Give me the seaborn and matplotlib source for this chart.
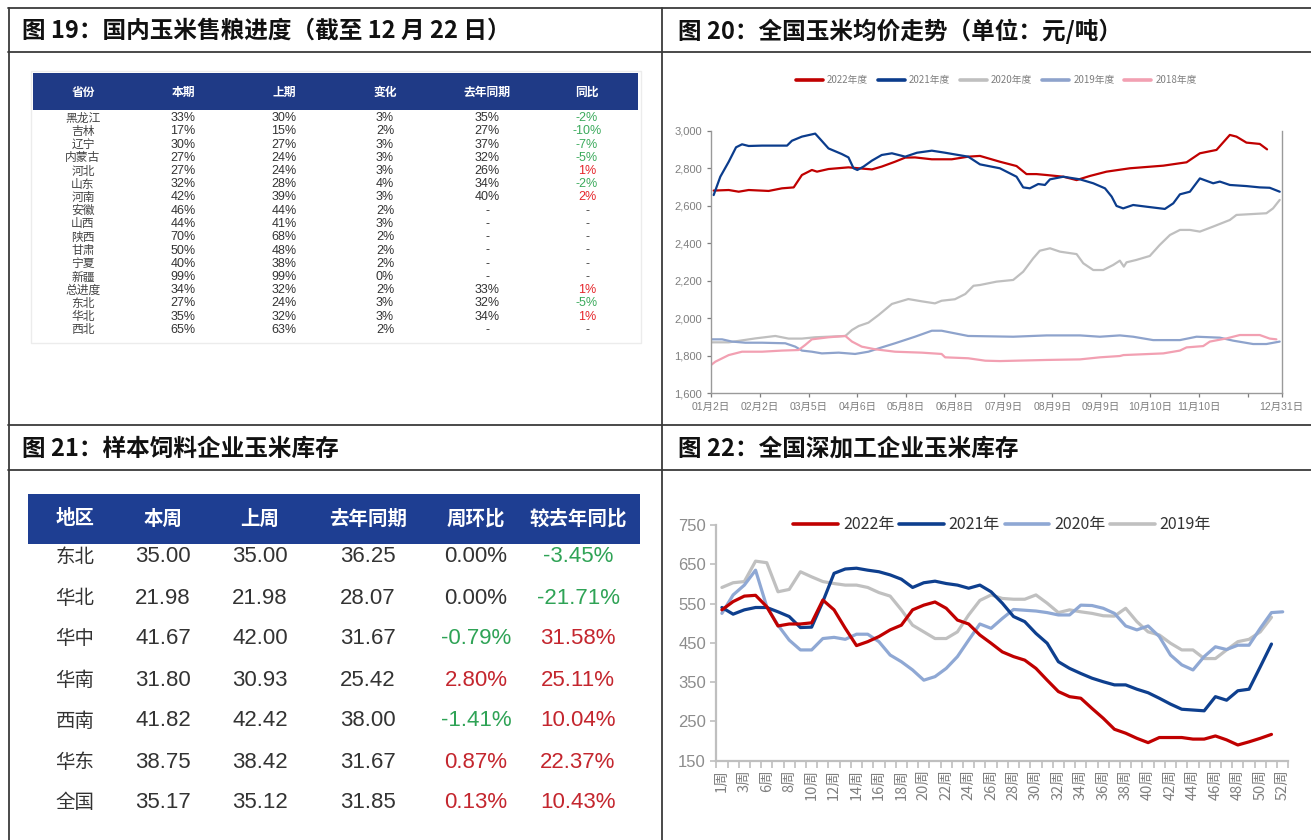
import numpy as np
import pandas as pd
import matplotlib
matplotlib.use("Agg")
import matplotlib.pyplot as plt
import seaborn as sns
from matplotlib.lines import Line2D
from matplotlib.patches import Rectangle
from matplotlib.ticker import StrMethodFormatter
from matplotlib import font_manager

sns.set_theme(style="ticks")
plt.rcParams['font.family'] = ['Noto Sans CJK SC', 'DejaVu Sans']
plt.rcParams['axes.unicode_minus'] = False

_names = {f.name for f in font_manager.fontManager.ttflist}
NARROW = "Liberation Sans Narrow" if "Liberation Sans Narrow" in _names else "Liberation Sans"
NUMFONT = [NARROW, 'Noto Sans CJK SC']

W, H = 1311, 840

# ---------------- 图19 数据 ----------------
t19_cols = ["省份", "本期", "上期", "变化", "去年同期", "同比"]
t19_prov = ["黑龙江", "吉林", "辽宁", "内蒙古", "河北", "山东", "河南", "安徽", "山西",
            "陕西", "甘肃", "宁夏", "新疆", "总进度", "东北", "华北", "西北"]
t19_cur = ["33%", "17%", "30%", "27%", "27%", "32%", "42%", "46%", "44%",
           "70%", "50%", "40%", "99%", "34%", "27%", "35%", "65%"]
t19_prev = ["30%", "15%", "27%", "24%", "24%", "28%", "39%", "44%", "41%",
            "68%", "48%", "38%", "99%", "32%", "24%", "32%", "63%"]
t19_chg = ["3%", "2%", "3%", "3%", "3%", "4%", "3%", "2%", "3%",
           "2%", "2%", "2%", "0%", "2%", "3%", "3%", "2%"]
t19_ly = ["35%", "27%", "37%", "32%", "26%", "34%", "40%", "-", "-",
          "-", "-", "-", "-", "33%", "32%", "34%", "-"]
t19_yoy = ["-2%", "-10%", "-7%", "-5%", "1%", "-2%", "2%", "-", "-",
           "-", "-", "-", "-", "1%", "-5%", "1%", "-"]

# ---------------- 图20 数据（日序号, 元/吨） ----------------
years20 = ["2022年度", "2021年度", "2020年度", "2019年度", "2018年度"]
colors20 = ["#C00000", "#0B3C8C", "#BFBFBF", "#8EA3CC", "#F2A0B2"]
date_labels = ["01月2日", "02月2日", "03月5日", "04月6日", "05月8日", "06月8日",
               "07月9日", "08月9日", "09月9日", "10月10日", "11月10日", "", "12月31日"]

p2022_x = [1.2, 8, 12.5, 17, 26, 32, 37.3, 41, 45.5, 47.8, 53, 62, 66.6, 72.6, 77,
           83, 87.6, 92, 99.6, 108.6, 116, 121.3, 130.3, 137.8, 142.3, 146.8, 151.4,
           158.9, 164.9, 170.9, 178.4, 188.9, 204, 214.5, 220.5, 228, 234, 237, 241.5,
           247.5, 250.8]
p2022_y = [2682, 2685, 2676, 2685, 2680, 2694, 2699, 2765, 2792, 2783, 2797, 2806, 2801,
           2795, 2810, 2836, 2858, 2859, 2849, 2849, 2863, 2867, 2836, 2813, 2770, 2770,
           2765, 2756, 2738, 2760, 2783, 2801, 2815, 2833, 2881, 2899, 2979, 2970, 2938,
           2931, 2902]
p2021_x = [1.2, 4.2, 8, 11.3, 14, 17, 23, 34.3, 36.5, 41, 47, 49.3, 53, 59, 62, 64.3, 66,
           68.8, 72.6, 77, 81.6, 87.6, 92.9, 99.6, 105.6, 110, 116, 121.3, 130.3, 137.8,
           140.8, 143.8, 147.6, 150.6, 152.9, 158.9, 166.4, 172.4, 177.7, 180.7, 182.9,
           185.9, 190.4, 196.4, 204.7, 208.5, 211.5, 216, 220.5, 226.5, 229.5, 234, 241.5,
           247.5, 252, 256.5]
p2021_y = [2658, 2756, 2836, 2913, 2929, 2920, 2922, 2922, 2948, 2970, 2986, 2956, 2907,
           2877, 2859, 2801, 2792, 2810, 2842, 2872, 2881, 2863, 2884, 2895, 2884, 2875,
           2863, 2822, 2801, 2756, 2699, 2694, 2717, 2712, 2742, 2756, 2742, 2721, 2694,
           2650, 2600, 2587, 2605, 2596, 2584, 2614, 2662, 2676, 2747, 2721, 2730, 2712,
           2706, 2699, 2697, 2676]
p2020_x = [0, 8, 20, 29, 35, 41, 47, 60.6, 63.6, 66.6, 71, 75.6, 81.6, 89, 95, 101, 104,
           110, 114.7, 118.4, 121.3, 128.8, 136.3, 140.8, 145.3, 148.3, 152.9, 157.4,
           164.9, 167.9, 172.4, 176.9, 181.4, 184.4, 186.2, 187.4, 191.9, 197.9, 202.4,
           207, 211.5, 216, 220.5, 226.5, 234, 237, 241.5, 250.5, 253.5, 256.5]
p2020_y = [1872, 1872, 1893, 1906, 1892, 1892, 1899, 1906, 1938, 1959, 1977, 2018, 2077,
           2103, 2091, 2080, 2094, 2102, 2130, 2174, 2178, 2196, 2205, 2249, 2320, 2361,
           2374, 2356, 2343, 2294, 2258, 2258, 2285, 2308, 2276, 2299, 2312, 2333, 2392,
           2445, 2472, 2472, 2463, 2490, 2525, 2552, 2555, 2561, 2587, 2632]
p2019_x = [0, 5, 9.5, 15.5, 23, 33.5, 38, 41, 45.5, 50, 57.6, 65, 71, 77, 83, 92, 99.6,
           104, 110, 116, 136.3, 151.4, 166.4, 175.4, 184.4, 190.4, 199.4, 211.5, 219,
           229.5, 235.5, 244.5, 250.5, 256.5]
p2019_y = [1888, 1888, 1876, 1870, 1870, 1867, 1849, 1828, 1822, 1813, 1817, 1810, 1822,
           1845, 1867, 1902, 1934, 1934, 1920, 1906, 1902, 1909, 1909, 1902, 1909, 1902,
           1884, 1884, 1902, 1897, 1881, 1863, 1863, 1876]
p2018_x = [0, 2, 8, 14, 23, 32, 39.5, 42.5, 45.5, 53, 60.6, 63.6, 68, 74, 83, 95, 104,
           105.6, 116, 123.7, 130.3, 151.4, 166.4, 175.4, 184.4, 186, 204, 211.5, 214.5,
           222, 225, 232.5, 238.5, 247.5, 252, 255]
p2018_y = [1751, 1769, 1804, 1822, 1822, 1828, 1831, 1858, 1888, 1899, 1906, 1876, 1849,
           1835, 1822, 1817, 1810, 1792, 1787, 1774, 1772, 1778, 1781, 1792, 1799, 1804,
           1813, 1828, 1845, 1852, 1876, 1893, 1911, 1911, 1892, 1888]

# ---------------- 图21 数据 ----------------
t21_cols = ["地区", "本周", "上周", "去年同期", "周环比", "较去年同比"]
t21_reg = ["东北", "华北", "华中", "华南", "西南", "华东", "全国"]
t21_this = [35.00, 21.98, 41.67, 31.80, 41.82, 38.75, 35.17]
t21_last = [35.00, 21.98, 42.00, 30.93, 42.42, 38.42, 35.12]
t21_ly = [36.25, 28.07, 31.67, 25.42, 38.00, 31.67, 31.85]
t21_wow = [0.00, 0.00, -0.79, 2.80, -1.41, 0.87, 0.13]
t21_yoy = [-3.45, -21.71, 31.58, 25.11, 10.04, 22.37, 10.43]

# ---------------- 图22 数据（万吨） ----------------
years22 = ["2022年", "2021年", "2020年", "2019年"]
colors22 = ["#C00000", "#0E3F8E", "#8FA8D4", "#C0C0C0"]
week_labels = ["1周", "2周", "3周", "5周"] + [f"{w}周" for w in range(6, 53)]
inv2022 = [534, 555, 569, 571, 542, 493, 498, 498, 501, 559, 534, 487, 443, 453, 466, 483,
           495, 534, 546, 554, 538, 508, 498, 470, 449, 427, 415, 406, 385, 355, 326, 313,
           309, 283, 258, 230, 220, 207, 196, 209, 209, 209, 205, 205, 213, 203, 190, 198,
           207, 217]
inv2021 = [540, 523, 534, 540, 540, 529, 517, 489, 490, 555, 627, 638, 640, 635, 631, 623,
           612, 591, 603, 607, 601, 597, 589, 597, 580, 551, 517, 504, 474, 449, 402, 385,
           372, 360, 351, 343, 343, 332, 323, 309, 294, 281, 279, 277, 313, 304, 328, 332,
           389, 447]
inv2020 = [525, 572, 597, 635, 542, 495, 457, 432, 432, 461, 464, 459, 472, 472, 453, 419,
           402, 381, 355, 364, 385, 415, 457, 498, 487, 512, 535, 533, 531, 527, 521, 521,
           546, 545, 538, 525, 493, 483, 493, 466, 419, 394, 381, 415, 440, 433, 444, 444,
           487, 527, 529]
inv2019 = [591, 603, 606, 658, 654, 580, 586, 631, 618, 606, 601, 597, 597, 591, 578, 569,
           534, 495, 478, 461, 461, 478, 521, 558, 572, 563, 561, 561, 572, 551, 527, 534,
           529, 525, 519, 518, 538, 504, 478, 470, 449, 432, 432, 410, 410, 432, 453, 459,
           478, 515]


def box(x0, y0, x1, y1):
    return [x0 / W, 1 - y1 / H, (x1 - x0) / W, (y1 - y0) / H]


fig = plt.figure(figsize=(W / 100, H / 100), dpi=100)

# ---------------- 外框与标题 ----------------
frame_c = "#3a3a3a"
for yy in [8, 52, 425, 470]:
    fig.add_artist(Line2D([8 / W, 1], [1 - yy / H] * 2, color=frame_c, lw=1.3))
for xx in [8.5, 662]:
    fig.add_artist(Line2D([xx / W] * 2, [0, 1 - 8 / H], color=frame_c, lw=1.3))

title_kw = dict(fontsize=17, fontweight="bold", va="center", ha="left", color="#111111")
fig.text(22 / W, 1 - 31 / H, "图 19：国内玉米售粮进度（截至 12 月 22 日）", **title_kw)
fig.text(678 / W, 1 - 31 / H, "图 20：全国玉米均价走势（单位：元/吨）", **title_kw)
fig.text(22 / W, 1 - 449 / H, "图 21：样本饲料企业玉米库存", **title_kw)
fig.text(678 / W, 1 - 449 / H, "图 22：全国深加工企业玉米库存", **title_kw)

# ---------------- 图19 表格 ----------------
ax19 = fig.add_axes(box(28, 68, 645, 345))
ax19.set_xlim(28, 645)
ax19.set_ylim(345, 68)
ax19.axis("off")
ax19.add_patch(Rectangle((31, 71), 610, 272, facecolor="none", edgecolor="#ECECEC", lw=1))
ax19.add_patch(Rectangle((33, 73), 605, 37, facecolor="#1F3A86", edgecolor="none"))
col19 = [83, 183, 284, 385, 487, 587]
for cx, name in zip(col19, t19_cols):
    ax19.text(cx, 92, name, ha="center", va="center", color="white",
              fontsize=8.5, fontweight="bold")


def pct_color(s):
    if s.startswith("-") and len(s) > 1:
        return "#3BAA5C"
    if s != "-":
        return "#E5262B"
    return "#444444"


for i, prov in enumerate(t19_prov):
    yy = 118 + 13.25 * i
    ax19.text(col19[0], yy, prov, ha="center", va="center", fontsize=8.5, color="#444444")
    vals = [t19_cur[i], t19_prev[i], t19_chg[i], t19_ly[i]]
    for cx, v in zip(col19[1:5], vals):
        ax19.text(cx, yy, v, ha="center", va="center", fontsize=9, color="#333333",
                  family=NUMFONT)
    ax19.text(col19[5], yy, t19_yoy[i], ha="center", va="center", fontsize=9,
              color=pct_color(t19_yoy[i]), family=NUMFONT)

# ---------------- 图20 折线 ----------------
series20 = [p2022_x, p2021_x, p2020_x, p2019_x, p2018_x]
values20 = [p2022_y, p2021_y, p2020_y, p2019_y, p2018_y]
df20 = pd.concat([pd.DataFrame({"day": xs, "price": ys, "year": yr})
                  for yr, xs, ys in zip(years20, series20, values20)], ignore_index=True)

ax20 = fig.add_axes(box(711, 131, 1281.7, 393.3))
sns.lineplot(data=df20, x="day", y="price", hue="year", hue_order=years20,
             palette=dict(zip(years20, colors20)), estimator=None, linewidth=1.6,
             legend=False, ax=ax20)
ax20.set_xlim(0, 257.4)
ax20.set_ylim(1600, 3000)
ax20.set_yticks(np.arange(1600, 3001, 200))
ax20.yaxis.set_major_formatter(StrMethodFormatter("{x:,.0f}"))
ax20.set_xticks([22 * i for i in range(12)] + [257.4])
ax20.set_xticklabels(date_labels)
ax20.set_xlabel("")
ax20.set_ylabel("")
for side in ["left", "right", "bottom"]:
    ax20.spines[side].set_color("#9A9A9A")
    ax20.spines[side].set_linewidth(1.0)
ax20.spines["top"].set_visible(False)
ax20.tick_params(axis="both", colors="#7F7F7F", labelsize=8, length=3, width=0.9)
ax20.tick_params(axis="x", labelsize=7.5, pad=3)
for lbl in ax20.get_xticklabels() + ax20.get_yticklabels():
    lbl.set_fontfamily(NUMFONT)
h20 = [Line2D([], [], color=c, lw=2.6) for c in colors20]
ax20.legend(h20, years20, loc="center", bbox_to_anchor=(0.5, 1 + 51 / 262.3), ncol=5,
            frameon=False, fontsize=7, handlelength=2.8, columnspacing=1.0,
            handletextpad=0.4, labelcolor="#7F7F7F")

# ---------------- 图21 表格 ----------------
ax21 = fig.add_axes(box(25, 478, 648, 835))
ax21.set_xlim(25, 648)
ax21.set_ylim(835, 478)
ax21.axis("off")
ax21.add_patch(Rectangle((28, 494), 612, 50, facecolor="#1E3E92", edgecolor="none"))
col21 = [75, 163, 260, 368, 476, 578]
for cx, name in zip(col21, t21_cols):
    ax21.text(cx, 519, name, ha="center", va="center", color="white",
              fontsize=14, fontweight="bold")


def chg_color(v):
    if v < 0:
        return "#2FA356"
    if v > 0:
        return "#C4262E"
    return "#333333"


for i, reg in enumerate(t21_reg):
    yy = 557 + 41 * i
    ax21.text(col21[0], yy, reg, ha="center", va="center", fontsize=14, color="#333333")
    for cx, v in zip(col21[1:4], [t21_this[i], t21_last[i], t21_ly[i]]):
        ax21.text(cx, yy, f"{v:.2f}", ha="center", va="center", fontsize=16,
                  color="#333333", family=NUMFONT)
    ax21.text(col21[4], yy, f"{t21_wow[i]:.2f}%", ha="center", va="center", fontsize=16,
              color=chg_color(t21_wow[i]), family=NUMFONT)
    ax21.text(col21[5], yy, f"{t21_yoy[i]:.2f}%", ha="center", va="center", fontsize=16,
              color=chg_color(t21_yoy[i]), family=NUMFONT)

# ---------------- 图22 折线 ----------------
values22 = [inv2022, inv2021, inv2020, inv2019]
df22 = pd.concat([pd.DataFrame({"week": np.arange(len(v)), "stock": v, "year": yr})
                  for yr, v in zip(years22, values22)], ignore_index=True)

ax22 = fig.add_axes(box(716.3, 525, 1288.3, 760.7))
sns.lineplot(data=df22, x="week", y="stock", hue="year", hue_order=years22[::-1],
             palette=dict(zip(years22, colors22)), estimator=None, linewidth=2.3,
             legend=False, ax=ax22)
n_cat = len(week_labels)
ax22.set_xlim(-0.5, n_cat - 0.5)
ax22.set_ylim(150, 750)
ax22.set_yticks(np.arange(150, 751, 100))
ax22.set_xticks(np.arange(0, n_cat, 2))
ax22.set_xticklabels(week_labels[::2], rotation=90)
ax22.set_xticks(np.arange(-0.5, n_cat, 1), minor=True)
ax22.set_xlabel("")
ax22.set_ylabel("")
for side in ["top", "right"]:
    ax22.spines[side].set_visible(False)
for side in ["left", "bottom"]:
    ax22.spines[side].set_color("#BFBFBF")
    ax22.spines[side].set_linewidth(1.6)
ax22.tick_params(axis="x", which="major", length=0, labelsize=10.5, colors="#7F7F7F", pad=6)
ax22.tick_params(axis="x", which="minor", length=5, width=1.2, color="#BFBFBF")
ax22.tick_params(axis="y", length=4, width=1.2, color="#BFBFBF", labelcolor="#8C8C8C",
                 labelsize=12)
for lbl in ax22.get_yticklabels():
    lbl.set_fontfamily(NUMFONT)
h22 = [Line2D([], [], color=c, lw=2.6) for c in colors22]
ax22.legend(h22, years22, loc="center", bbox_to_anchor=(0.5, 1.0), ncol=4, frameon=False,
            fontsize=11.5, handlelength=2.8, columnspacing=0.3, handletextpad=0.3,
            labelcolor="#333333")

fig.savefig("out.png", dpi=100, facecolor="white")
